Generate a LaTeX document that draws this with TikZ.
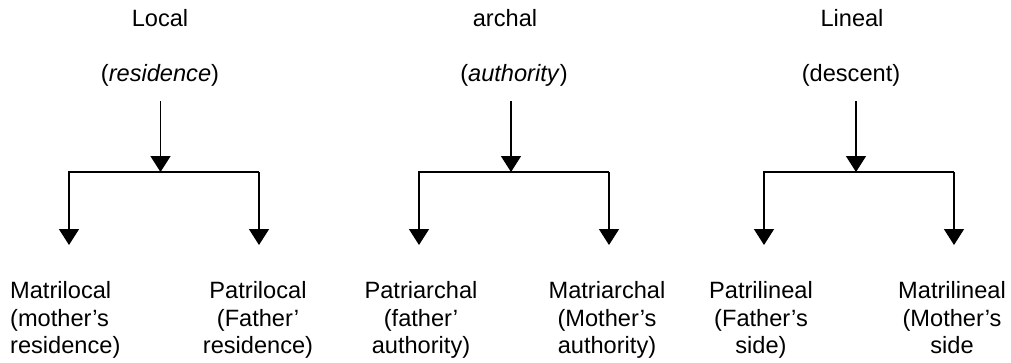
\documentclass[tikz,border=0pt]{standalone}
\usepackage{fontspec}
\setmainfont{Liberation Sans}
\usetikzlibrary{arrows.meta}
\begin{document}
\begin{tikzpicture}[x=1pt,y=-1pt,
  lbl/.style={font=\fontsize{23.6}{27.3}\selectfont, inner sep=0pt, anchor=base},
  leaf/.style={font=\fontsize{23.6}{27.3}\selectfont, inner sep=0pt, anchor=north, align=center},
  leafl/.style={font=\fontsize{23.6}{27.3}\selectfont, inner sep=0pt, anchor=north west, align=left},
  conn/.style={line width=1.5pt, black, line join=miter},
  arr/.style={conn, -{Triangle[width=20pt,length=16pt]}}]
\useasboundingbox (0,0) rectangle (1011,362);
% group 1
\node[lbl] (t1) at (160,26) {Local};
\node[lbl] (s1) at (160,81) {(\textit{residence})};
\coordinate (a1) at (160.5,101);
\coordinate (j1) at (160.5,172);
\coordinate (bl1) at (69,172);
\coordinate (br1) at (259,172);
\coordinate (cl1) at (69,245);
\coordinate (cr1) at (259,245);
\node[leafl] (m1) at (10,281.5) {Matrilocal\\(mother's\\residence)};
\node[leaf] (p1) at (258,281.5) {Patrilocal\\(Father'\\residence)};
\draw[arr] (a1) -- (j1);
\draw[arr] (br1) -- (bl1) -- (cl1);
\draw[arr] (br1) -- (cr1);
% group 2
\node[lbl] (t2) at (505,26) {archal};
\node[lbl] (s2) at (514,81) {(\textit{authority})};
\coordinate (a2) at (511,101);
\coordinate (j2) at (511,172);
\coordinate (bl2) at (419,172);
\coordinate (br2) at (609,172);
\coordinate (cl2) at (419,245);
\coordinate (cr2) at (609,245);
\node[leaf] (p2) at (421,281.5) {Patriarchal\\(father'\\authority)};
\node[leaf] (m2) at (607,281.5) {Matriarchal\\(Mother's\\authority)};
\draw[arr] (a2) -- (j2);
\draw[arr] (br2) -- (bl2) -- (cl2);
\draw[arr] (br2) -- (cr2);
% group 3
\node[lbl] (t3) at (852,26) {Lineal};
\node[lbl] (s3) at (851,81) {(descent)};
\coordinate (a3) at (856,101);
\coordinate (j3) at (856,172);
\coordinate (bl3) at (764,172);
\coordinate (br3) at (954,172);
\coordinate (cl3) at (764,245);
\coordinate (cr3) at (954,245);
\node[leaf] (p3) at (761,281.5) {Patrilineal\\(Father's\\side)};
\node[leaf] (m3) at (952,281.5) {Matrilineal\\(Mother's\\side};
\draw[arr] (a3) -- (j3);
\draw[arr] (br3) -- (bl3) -- (cl3);
\draw[arr] (br3) -- (cr3);
\end{tikzpicture}
\end{document}
